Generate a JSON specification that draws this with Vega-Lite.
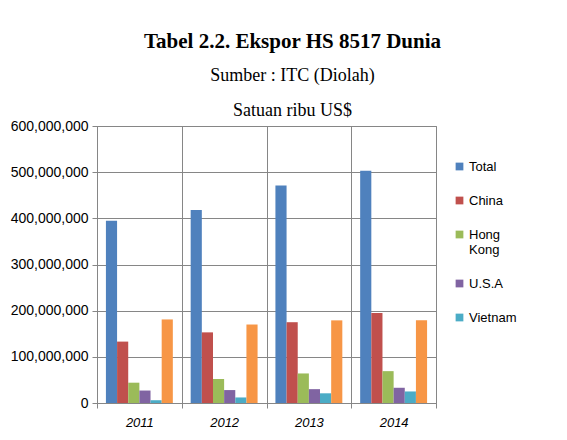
{
  "$schema": "https://vega.github.io/schema/vega-lite/v6.json",
  "width": 339,
  "height": 277,
  "autosize": "none",
  "padding": {"left": 97, "top": 126, "right": 131, "bottom": 37},
  "background": "white",
  "title": {
    "text": "Tabel 2.2. Ekspor HS 8517 Dunia",
    "subtitle": ["Sumber : ITC (Diolah)", "Satuan ribu US$"],
    "anchor": "middle",
    "frame": "group",
    "dx": 26,
    "font": "Liberation Serif",
    "fontSize": 21,
    "fontWeight": "bold",
    "color": "#000000",
    "subtitleFont": "Liberation Serif",
    "subtitleFontSize": 18,
    "subtitleColor": "#000000",
    "subtitleLineHeight": 35,
    "subtitlePadding": 15,
    "offset": -1
  },
  "data": {
    "values": [
      {"tahun": "2011", "negara": "Total", "nilai": 395000000},
      {"tahun": "2011", "negara": "China", "nilai": 133000000},
      {"tahun": "2011", "negara": "Hong Kong", "nilai": 44000000},
      {"tahun": "2011", "negara": "U.S.A", "nilai": 27000000},
      {"tahun": "2011", "negara": "Vietnam", "nilai": 6000000},
      {"tahun": "2011", "negara": "Lainnya", "nilai": 181000000},
      {"tahun": "2012", "negara": "Total", "nilai": 418000000},
      {"tahun": "2012", "negara": "China", "nilai": 153000000},
      {"tahun": "2012", "negara": "Hong Kong", "nilai": 52000000},
      {"tahun": "2012", "negara": "U.S.A", "nilai": 28000000},
      {"tahun": "2012", "negara": "Vietnam", "nilai": 12000000},
      {"tahun": "2012", "negara": "Lainnya", "nilai": 170000000},
      {"tahun": "2013", "negara": "Total", "nilai": 471000000},
      {"tahun": "2013", "negara": "China", "nilai": 175000000},
      {"tahun": "2013", "negara": "Hong Kong", "nilai": 64000000},
      {"tahun": "2013", "negara": "U.S.A", "nilai": 30000000},
      {"tahun": "2013", "negara": "Vietnam", "nilai": 21000000},
      {"tahun": "2013", "negara": "Lainnya", "nilai": 179000000},
      {"tahun": "2014", "negara": "Total", "nilai": 503000000},
      {"tahun": "2014", "negara": "China", "nilai": 195000000},
      {"tahun": "2014", "negara": "Hong Kong", "nilai": 69000000},
      {"tahun": "2014", "negara": "U.S.A", "nilai": 33000000},
      {"tahun": "2014", "negara": "Vietnam", "nilai": 25000000},
      {"tahun": "2014", "negara": "Lainnya", "nilai": 179000000}
    ]
  },
  "mark": {"type": "bar"},
  "encoding": {
    "x": {
      "field": "tahun",
      "type": "nominal",
      "scale": {"paddingInner": 0, "paddingOuter": 0},
      "axis": {
        "title": null,
        "labelAngle": 0,
        "labelFont": "Liberation Sans",
        "labelFontSize": 13,
        "labelFontStyle": "italic",
        "labelColor": "#000000",
        "labelPadding": 8,
        "tickBand": "extent",
        "grid": true,
        "gridColor": "#868686",
        "domainColor": "#868686",
        "tickColor": "#868686",
        "tickSize": 5
      }
    },
    "xOffset": {
      "field": "negara",
      "type": "nominal",
      "sort": ["Total", "China", "Hong Kong", "U.S.A", "Vietnam", "Lainnya"],
      "scale": {"paddingInner": 0, "paddingOuter": 0.8}
    },
    "y": {
      "field": "nilai",
      "type": "quantitative",
      "scale": {"domain": [0, 600000000], "nice": false},
      "axis": {
        "title": null,
        "values": [0, 100000000, 200000000, 300000000, 400000000, 500000000, 600000000],
        "format": ",d",
        "labelFont": "Liberation Sans",
        "labelFontSize": 14,
        "labelColor": "#000000",
        "labelPadding": 4,
        "grid": true,
        "gridColor": "#868686",
        "domainColor": "#868686",
        "tickColor": "#868686",
        "tickSize": 5
      }
    },
    "color": {
      "field": "negara",
      "type": "nominal",
      "scale": {
        "domain": ["Total", "China", "Hong Kong", "U.S.A", "Vietnam", "Lainnya"],
        "range": ["#4F81BD", "#C0504D", "#9BBB59", "#8064A2", "#4BACC6", "#F79646"]
      },
      "legend": {
        "title": null,
        "values": ["Total", "China", "Hong Kong", "U.S.A", "Vietnam"],
        "orient": "none",
        "legendX": 356,
        "legendY": 34,
        "symbolType": "square",
        "symbolSize": 60,
        "symbolStrokeWidth": 0,
        "labelFont": "Liberation Sans",
        "labelFontSize": 13,
        "labelColor": "#000000",
        "labelOffset": 3,
        "rowPadding": 20,
        "labelExpr": "datum.label == 'Hong Kong' ? ['Hong', 'Kong'] : datum.label"
      }
    }
  },
  "config": {
    "view": {"stroke": "#868686"}
  }
}
